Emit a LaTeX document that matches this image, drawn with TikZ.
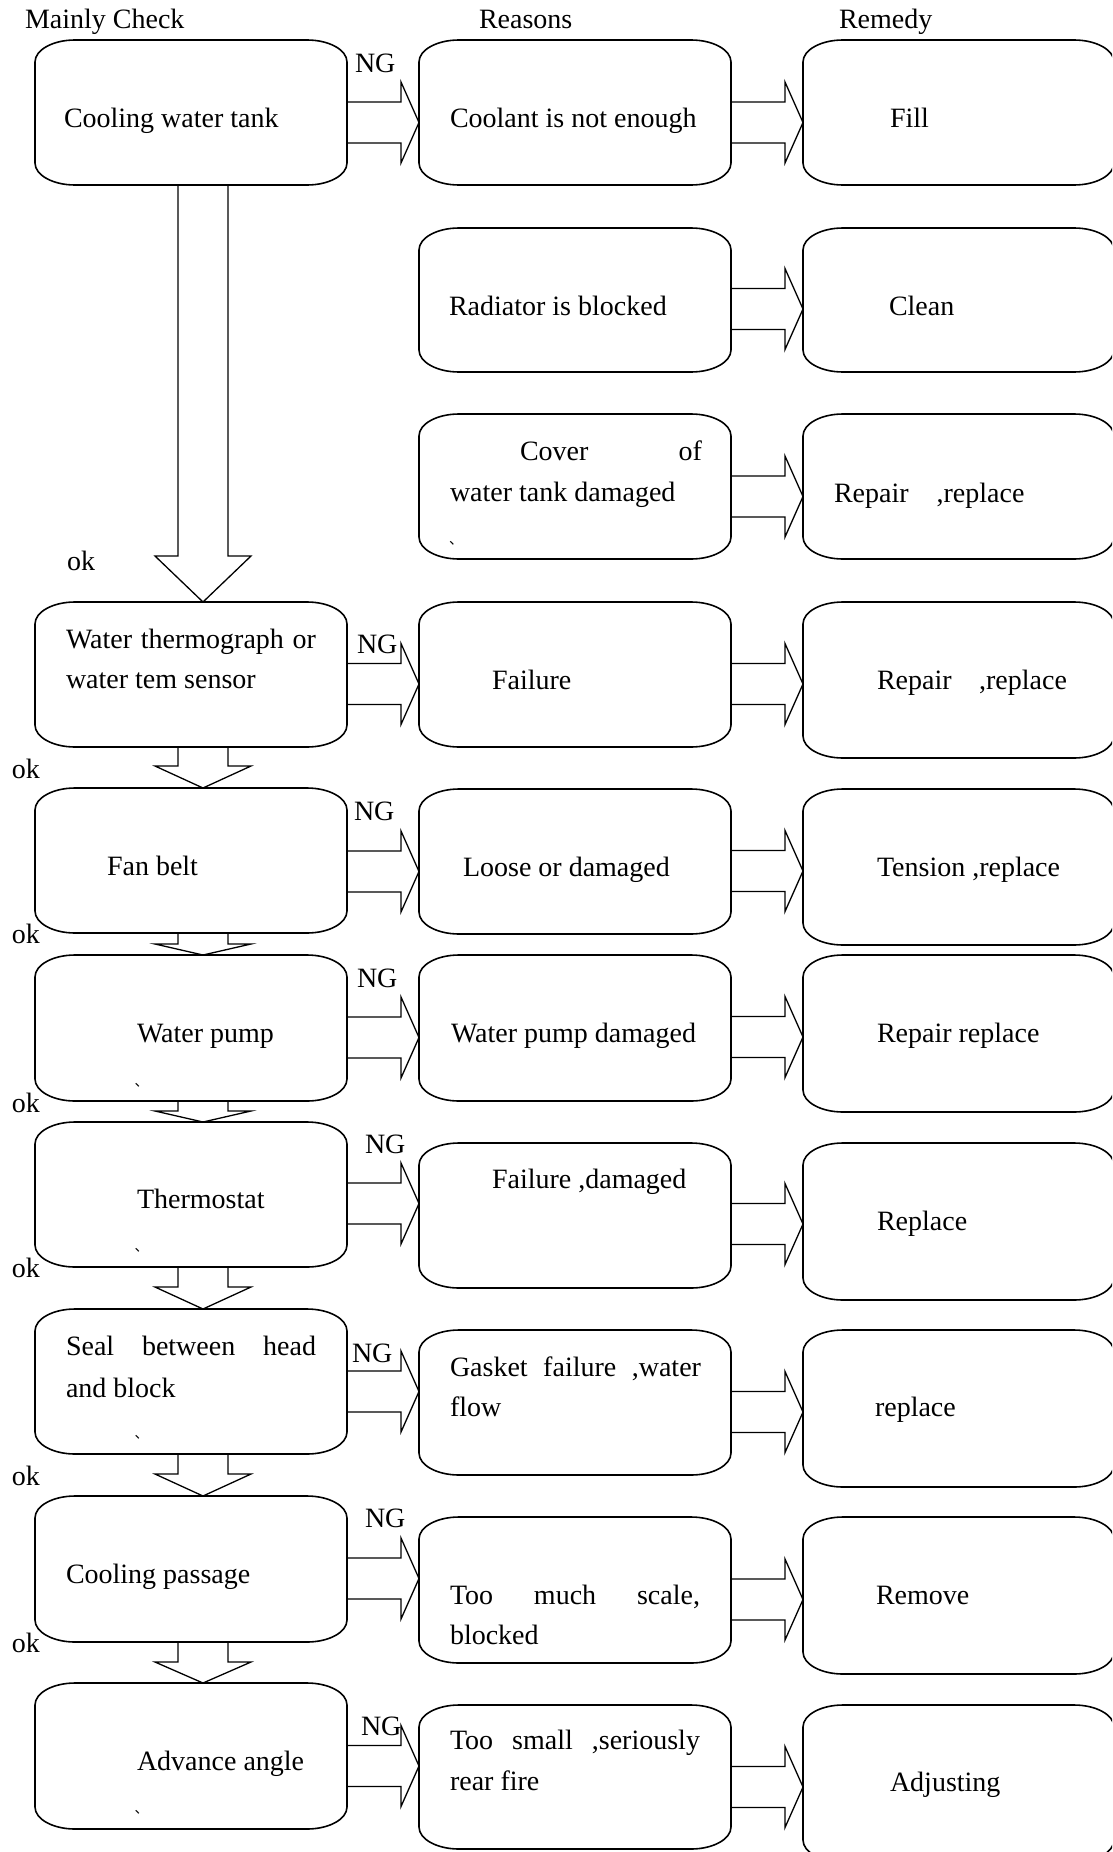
\documentclass[tikz,border=0pt]{standalone}
\usepackage{fontspec}
\setmainfont{Liberation Serif}
\newfontfamily\cjkfont{Noto Sans CJK SC}
\usetikzlibrary{calc}
\newcommand\dgfont{\fontsize{28pt}{41pt}\selectfont}
\newcommand\markfont{\cjkfont\fontsize{14pt}{14pt}\selectfont}
\tikzset{
  boxnode/.style={rectangle, inner sep=0pt, outer sep=0pt},
  boxline/.style={line width=1.6pt, black, line join=round},
  blk/.style={line width=1.3pt, black, line join=miter},
  txt/.style={anchor=base west, inner sep=0pt, outer sep=0pt, font=\dgfont},
  mk/.style={anchor=base west, inner sep=0pt, outer sep=0pt, font=\markfont}
}
% rounded box with elliptical corners: name, x1, y1, x2, y2 (pixel coordinates)
\newcommand\BoxAt[5]{%
  \node[boxnode, minimum width={(#4-#2)*1pt}, minimum height={(#5-#3)*1pt}] (#1) at ({(#2+#4)/2},{(#3+#5)/2}) {};
  \draw[boxline] ([xshift=40pt]#1.north west) -- ([xshift=-40pt]#1.north east)
    arc[start angle=90,end angle=0,x radius=40pt,y radius=22pt]
    -- ([yshift=22pt]#1.south east)
    arc[start angle=0,end angle=-90,x radius=40pt,y radius=22pt]
    -- ([xshift=40pt]#1.south west)
    arc[start angle=-90,end angle=-180,x radius=40pt,y radius=22pt]
    -- ([yshift=-22pt]#1.north west)
    arc[start angle=180,end angle=90,x radius=40pt,y radius=22pt]
    -- cycle;
}
% horizontal block arrow from node #1 to node #2 at pixel height #3
\newcommand\HArr[3]{%
  \coordinate (HAy) at (0,#3);
  \coordinate (HAp) at (#1.east |- HAy);
  \coordinate (HAt) at (#2.west |- HAy);
  \coordinate (HAq) at ([xshift=-18pt]HAt);
  \draw[blk] ([yshift=20.5pt]HAp) -- ([yshift=20.5pt]HAq) -- ([yshift=40.5pt]HAq)
    -- (HAt) -- ([yshift=-40.5pt]HAq) -- ([yshift=-20.5pt]HAq) -- ([yshift=-20.5pt]HAp);
}
% vertical block arrow from node #1 down to node #2, head starting at pixel height #3
\newcommand\VArr[3]{%
  \coordinate (VAy) at (203,#3);
  \coordinate (VAp) at (VAy |- #1.south);
  \coordinate (VAt) at (VAy |- #2.north);
  \draw[blk] ([xshift=-25pt]VAp) -- ([xshift=-25pt]VAy) -- ([xshift=-48pt]VAy)
    -- (VAt) -- ([xshift=48pt]VAy) -- ([xshift=25pt]VAy) -- ([xshift=25pt]VAp);
}
\begin{document}
\begin{tikzpicture}[x=1pt,y=-1pt]
\useasboundingbox (0,0) rectangle (1112,1852);
\clip (0,0) rectangle (1112,1852);
\fill[white] (0,0) rectangle (1112,1852);

% headers
\node[txt] (hd1) at (25,29) {Mainly Check};
\node[txt] (hd2) at (479,29) {Reasons};
\node[txt] (hd3) at (839,29) {Remedy};

% check column
\BoxAt{c1}{35}{40}{347}{185}
\BoxAt{c4}{35}{602}{347}{747}
\BoxAt{c5}{35}{788}{347}{933}
\BoxAt{c6}{35}{955}{347}{1101}
\BoxAt{c7}{35}{1122}{347}{1267}
\BoxAt{c8}{35}{1309}{347}{1454}
\BoxAt{c9}{35}{1496}{347}{1642}
\BoxAt{c10}{35}{1683}{347}{1829}

% reasons column
\BoxAt{r1}{419}{40}{731}{185}
\BoxAt{r2}{419}{228}{731}{372}
\BoxAt{r3}{419}{414}{731}{559}
\BoxAt{r4}{419}{602}{731}{747}
\BoxAt{r5}{419}{789}{731}{934}
\BoxAt{r6}{419}{955}{731}{1101}
\BoxAt{r7}{419}{1143}{731}{1288}
\BoxAt{r8}{419}{1330}{731}{1475}
\BoxAt{r9}{419}{1517}{731}{1663}
\BoxAt{r10}{419}{1705}{731}{1849}

% remedy column (right edge just past the page edge)
\BoxAt{m1}{803}{40}{1114}{185}
\BoxAt{m2}{803}{228}{1114}{372}
\BoxAt{m3}{803}{414}{1114}{559}
\BoxAt{m4}{803}{602}{1114}{758}
\BoxAt{m5}{803}{789}{1114}{945}
\BoxAt{m6}{803}{955}{1114}{1112}
\BoxAt{m7}{803}{1143}{1114}{1300}
\BoxAt{m8}{803}{1330}{1114}{1487}
\BoxAt{m9}{803}{1517}{1114}{1674}
\BoxAt{m10}{803}{1705}{1114}{1862}

% arrows check -> reasons
\HArr{c1}{r1}{122.5}
\HArr{c4}{r4}{684}
\HArr{c5}{r5}{871.5}
\HArr{c6}{r6}{1037.5}
\HArr{c7}{r7}{1203.5}
\HArr{c8}{r8}{1391.5}
\HArr{c9}{r9}{1578.5}
\HArr{c10}{r10}{1766}

% arrows reasons -> remedy
\HArr{r1}{m1}{122.5}
\HArr{r2}{m2}{309}
\HArr{r3}{m3}{496.5}
\HArr{r4}{m4}{684}
\HArr{r5}{m5}{871}
\HArr{r6}{m6}{1037}
\HArr{r7}{m7}{1224}
\HArr{r8}{m8}{1412}
\HArr{r9}{m9}{1599.5}
\HArr{r10}{m10}{1787}

% ok arrows
\VArr{c1}{c4}{556}
\VArr{c4}{c5}{766}
\VArr{c5}{c6}{944}
\VArr{c6}{c7}{1111}
\VArr{c7}{c8}{1287}
\VArr{c8}{c9}{1474}
\VArr{c9}{c10}{1662}

% NG labels
\node[txt] (ng1) at (355,72) {NG};
\node[txt] (ng4) at (357,653) {NG};
\node[txt] (ng5) at (354,820) {NG};
\node[txt] (ng6) at (357,987) {NG};
\node[txt] (ng7) at (365,1153) {NG};
\node[txt] (ng8) at (352,1362) {NG};
\node[txt] (ng9) at (365,1527) {NG};
\node[txt] (ng10) at (361,1735) {NG};

% ok labels
\node[txt] (ok1) at (67,570) {ok};
\node[txt] (ok2) at (12,778) {ok};
\node[txt] (ok3) at (12,943) {ok};
\node[txt] (ok4) at (12,1112) {ok};
\node[txt] (ok5) at (12,1277) {ok};
\node[txt] (ok6) at (12,1485) {ok};
\node[txt] (ok7) at (12,1652) {ok};

% check texts
\node[txt] (tc1) at (64,127) {Cooling water tank};
\node[txt] (tc4a) at (66,648) {\makebox[250pt][s]{Water thermograph or}};
\node[txt] (tc4b) at (66,688) {water tem sensor};
\node[txt] (tc5) at (107,875) {Fan belt};
\node[txt] (tc6) at (137,1042) {Water pump};
\node[txt] (tc7) at (137,1208) {Thermostat};
\node[txt] (tc8a) at (66,1355) {\makebox[250pt][s]{Seal between head}};
\node[txt] (tc8b) at (66,1397) {and block};
\node[txt] (tc9) at (66,1583) {Cooling passage};
\node[txt] (tc10) at (137,1770) {Advance angle};

% reason texts
\node[txt] (tr1) at (450,127) {Coolant is not enough};
\node[txt] (tr2) at (449,315) {Radiator is blocked};
\node[txt] (tr3a) at (520,460) {\makebox[182pt][s]{Cover of}};
\node[txt] (tr3b) at (450,501) {water tank damaged};
\node[txt] (tr4) at (492,689) {Failure};
\node[txt] (tr5) at (463,876) {Loose or damaged};
\node[txt] (tr6) at (451,1042) {Water pump damaged};
\node[txt] (tr7) at (492,1188) {Failure ,damaged};
\node[txt] (tr8a) at (450,1376) {\makebox[251pt][s]{Gasket failure ,water}};
\node[txt] (tr8b) at (450,1416) {flow};
\node[txt] (tr9a) at (450,1604) {\makebox[250pt][s]{Too much scale,}};
\node[txt] (tr9b) at (450,1644) {blocked};
\node[txt] (tr10a) at (450,1749) {\makebox[250pt][s]{Too small ,seriously}};
\node[txt] (tr10b) at (450,1790) {rear fire};

% remedy texts
\node[txt] (tm1) at (890,127) {Fill};
\node[txt] (tm2) at (889,315) {Clean};
\node[txt] (tm3) at (834,502) {Repair\hspace{28pt},replace};
\node[txt] (tm4) at (877,689) {Repair\hspace{27.5pt},replace};
\node[txt] (tm5) at (877,876) {Tension ,replace};
\node[txt] (tm6) at (877,1042) {Repair replace};
\node[txt] (tm7) at (877,1230) {Replace};
\node[txt] (tm8) at (875,1416) {replace};
\node[txt] (tm9) at (876,1604) {Remove};
\node[txt] (tm10) at (890,1791) {Adjusting};

% small stray marks
\node[mk] (k3) at (449,544) {、};
\node[mk] (k6) at (134.5,1086) {、};
\node[mk] (k7) at (134.5,1251) {、};
\node[mk] (k8) at (134.5,1438) {、};
\node[mk] (k10) at (134.5,1813) {、};
\end{tikzpicture}
\end{document}
